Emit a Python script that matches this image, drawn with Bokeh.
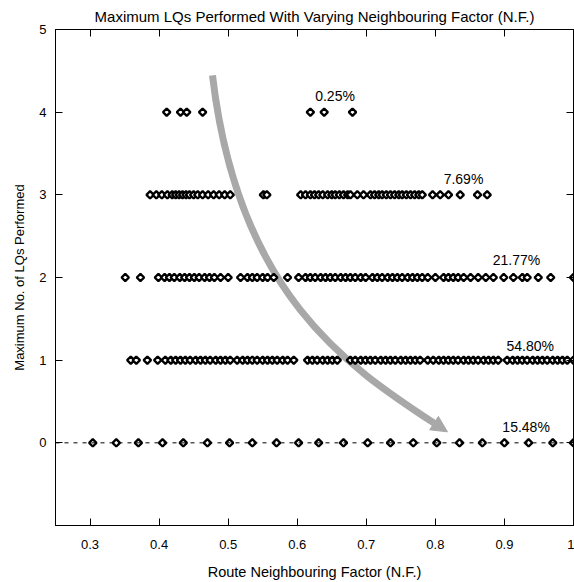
import math
from bokeh.plotting import figure
from bokeh.models import (Range1d, FixedTicker, LinearAxis, Span, Label, Arrow,
                          NormalHead, ColumnDataSource)
from bokeh.embed import file_html
from bokeh.resources import INLINE

# ---- data ----
row4_x = [0.411, 0.431, 0.440, 0.463, 0.619, 0.639, 0.680]
row3_x = [0.387, 0.396, 0.404, 0.412, 0.419, 0.424, 0.429, 0.434, 0.439, 0.444,
          0.450, 0.456, 0.463, 0.471, 0.479, 0.487, 0.495, 0.503, 0.551, 0.556,
          0.605, 0.612, 0.619, 0.625, 0.631, 0.637, 0.644, 0.650, 0.655, 0.661,
          0.667, 0.673, 0.677, 0.687, 0.696, 0.706, 0.712, 0.718, 0.723, 0.729,
          0.735, 0.741, 0.747, 0.752, 0.758, 0.764, 0.770, 0.776, 0.781, 0.796,
          0.807, 0.819, 0.836, 0.861, 0.875]
row2_x = [0.351, 0.373, 0.399, 0.408, 0.415, 0.422, 0.430, 0.437, 0.444, 0.451,
          0.458, 0.466, 0.473, 0.480, 0.489, 0.500, 0.518, 0.528, 0.535, 0.542,
          0.550, 0.557, 0.566, 0.586, 0.602, 0.612, 0.619, 0.626, 0.634, 0.641,
          0.648, 0.655, 0.663, 0.670, 0.677, 0.684, 0.692, 0.699, 0.709, 0.716,
          0.723, 0.731, 0.738, 0.745, 0.752, 0.760, 0.767, 0.774, 0.781, 0.789,
          0.800, 0.812, 0.819, 0.826, 0.833, 0.841, 0.851, 0.862, 0.873, 0.884,
          0.899, 0.913, 0.926, 0.933, 0.949, 0.967, 1.000]
row1_x = [0.359, 0.367, 0.383, 0.398, 0.409, 0.417, 0.424, 0.431, 0.438, 0.445,
          0.453, 0.460, 0.467, 0.474, 0.482, 0.489, 0.496, 0.503, 0.513, 0.521,
          0.528, 0.535, 0.542, 0.550, 0.557, 0.564, 0.571, 0.579, 0.586, 0.595,
          0.615, 0.622, 0.629, 0.637, 0.644, 0.651, 0.658, 0.677, 0.684, 0.692,
          0.699, 0.706, 0.713, 0.721, 0.728, 0.735, 0.742, 0.750, 0.757, 0.764,
          0.771, 0.778, 0.789, 0.797, 0.805, 0.812, 0.819, 0.826, 0.833, 0.841,
          0.848, 0.855, 0.862, 0.870, 0.877, 0.884, 0.891, 0.904, 0.912, 0.919,
          0.926, 0.933, 0.941, 0.948, 0.955, 0.962, 0.970, 0.977, 0.984, 0.991,
          1.000]
row0_x = [0.304, 0.338, 0.370, 0.405, 0.435, 0.470, 0.502, 0.535, 0.570, 0.602,
          0.631, 0.667, 0.702, 0.735, 0.768, 0.802, 0.835, 0.868, 0.900, 0.935,
          0.970, 1.000]
rows = [(0, row0_x), (1, row1_x), (2, row2_x), (3, row3_x), (4, row4_x)]

pct_labels = ["15.48%", "54.80%", "21.77%", "7.69%", "0.25%"]
pct_x = [0.897, 0.903, 0.883, 0.812, 0.626]
pct_y = [0.19, 1.17, 2.21, 3.19, 4.2]

# curved arrow (start, control1, control2, end of shaft) and head tip
arrow_pts_x = [0.4773, 0.5142, 0.6728, 0.798]
arrow_pts_y = [4.446, 1.795, 0.928, 0.239]
arrow_tip = (0.8175, 0.133)

x_ticks = [0.3, 0.4, 0.5, 0.6, 0.7, 0.8, 0.9, 1.0]
y_ticks = [0, 1, 2, 3, 4, 5]

FONT = "Liberation Sans"

p = figure(width=574, height=582, output_backend="svg", toolbar_location=None,
           x_range=Range1d(0.25, 1.0), y_range=Range1d(-1, 5),
           min_border_left=55, min_border_right=1, min_border_top=29,
           min_border_bottom=53, x_axis_location=None, y_axis_location=None)
p.background_fill_color = "white"
p.border_fill_color = "white"
p.outline_line_color = "black"
p.outline_line_width = 1
p.xgrid.visible = False
p.ygrid.visible = False

p.title.text = "Maximum LQs Performed With Varying Neighbouring Factor (N.F.)"
p.title.text_font = FONT
p.title.text_font_size = "15px"
p.title.text_font_style = "normal"
p.title.text_color = "black"
p.title.align = "center"
p.title.offset = 4


def make_axis(ticks, labels=True, label_text=None, label_size="13px"):
    ax = LinearAxis()
    ax.ticker = FixedTicker(ticks=ticks)
    ax.major_tick_in = 7
    ax.major_tick_out = 0
    ax.minor_tick_line_color = None
    ax.axis_line_color = "black"
    ax.major_tick_line_color = "black"
    if labels:
        ax.major_label_text_font = FONT
        ax.major_label_text_font_size = "13px"
        ax.major_label_text_color = "black"
    else:
        ax.major_label_overrides = {t: "" for t in ticks}
        ax.major_label_standoff = 0
    if label_text:
        ax.axis_label = label_text
        ax.axis_label_text_font = FONT
        ax.axis_label_text_font_size = label_size
        ax.axis_label_text_font_style = "normal"
        ax.axis_label_text_color = "black"
    return ax


xb = make_axis(x_ticks, True, "Route Neighbouring Factor (N.F.)", "14.5px")
xb.major_label_overrides = {1.0: "1"}
xb.major_label_standoff = 14
xb.axis_label_standoff = 12
p.add_layout(xb, "below")

xt = make_axis(x_ticks, False)
p.add_layout(xt, "above")

yl = make_axis(y_ticks, True, "Maximum No. of LQs Performed", "13px")
yl.major_label_standoff = 9
yl.axis_label_standoff = 9
p.add_layout(yl, "left")

yr = make_axis(y_ticks, False)
p.add_layout(yr, "right")

# dashed line through level 0
p.add_layout(Span(location=0, dimension="width", line_color="black",
                  line_width=1, line_dash="4 5"))

# curved arrow
p.bezier(x0=[arrow_pts_x[0]], y0=[arrow_pts_y[0]],
         cx0=[arrow_pts_x[1]], cy0=[arrow_pts_y[1]],
         cx1=[arrow_pts_x[2]], cy1=[arrow_pts_y[2]],
         x1=[arrow_pts_x[3]], y1=[arrow_pts_y[3]],
         line_color="#a8a8a8", line_width=7)
p.add_layout(Arrow(end=NormalHead(size=16, fill_color="#a8a8a8",
                                  line_color="#a8a8a8"),
                   x_start=arrow_pts_x[3], y_start=arrow_pts_y[3],
                   x_end=arrow_tip[0], y_end=arrow_tip[1],
                   line_alpha=0, line_width=0))

# scatter markers (hollow diamonds)
for yv, xs in rows:
    src = ColumnDataSource(dict(x=xs, y=[yv] * len(xs)))
    p.scatter("x", "y", source=src, marker="square", size=5.2,
              angle=math.pi / 4, fill_color="white", line_color="black",
              line_width=2.3)

for t, xx, yy in zip(pct_labels, pct_x, pct_y):
    p.add_layout(Label(x=xx, y=yy, text=t, text_font=FONT,
                       text_font_size="14px", text_color="black",
                       text_baseline="middle", text_align="left"))

open("out.html", "w").write(file_html(p, INLINE))
